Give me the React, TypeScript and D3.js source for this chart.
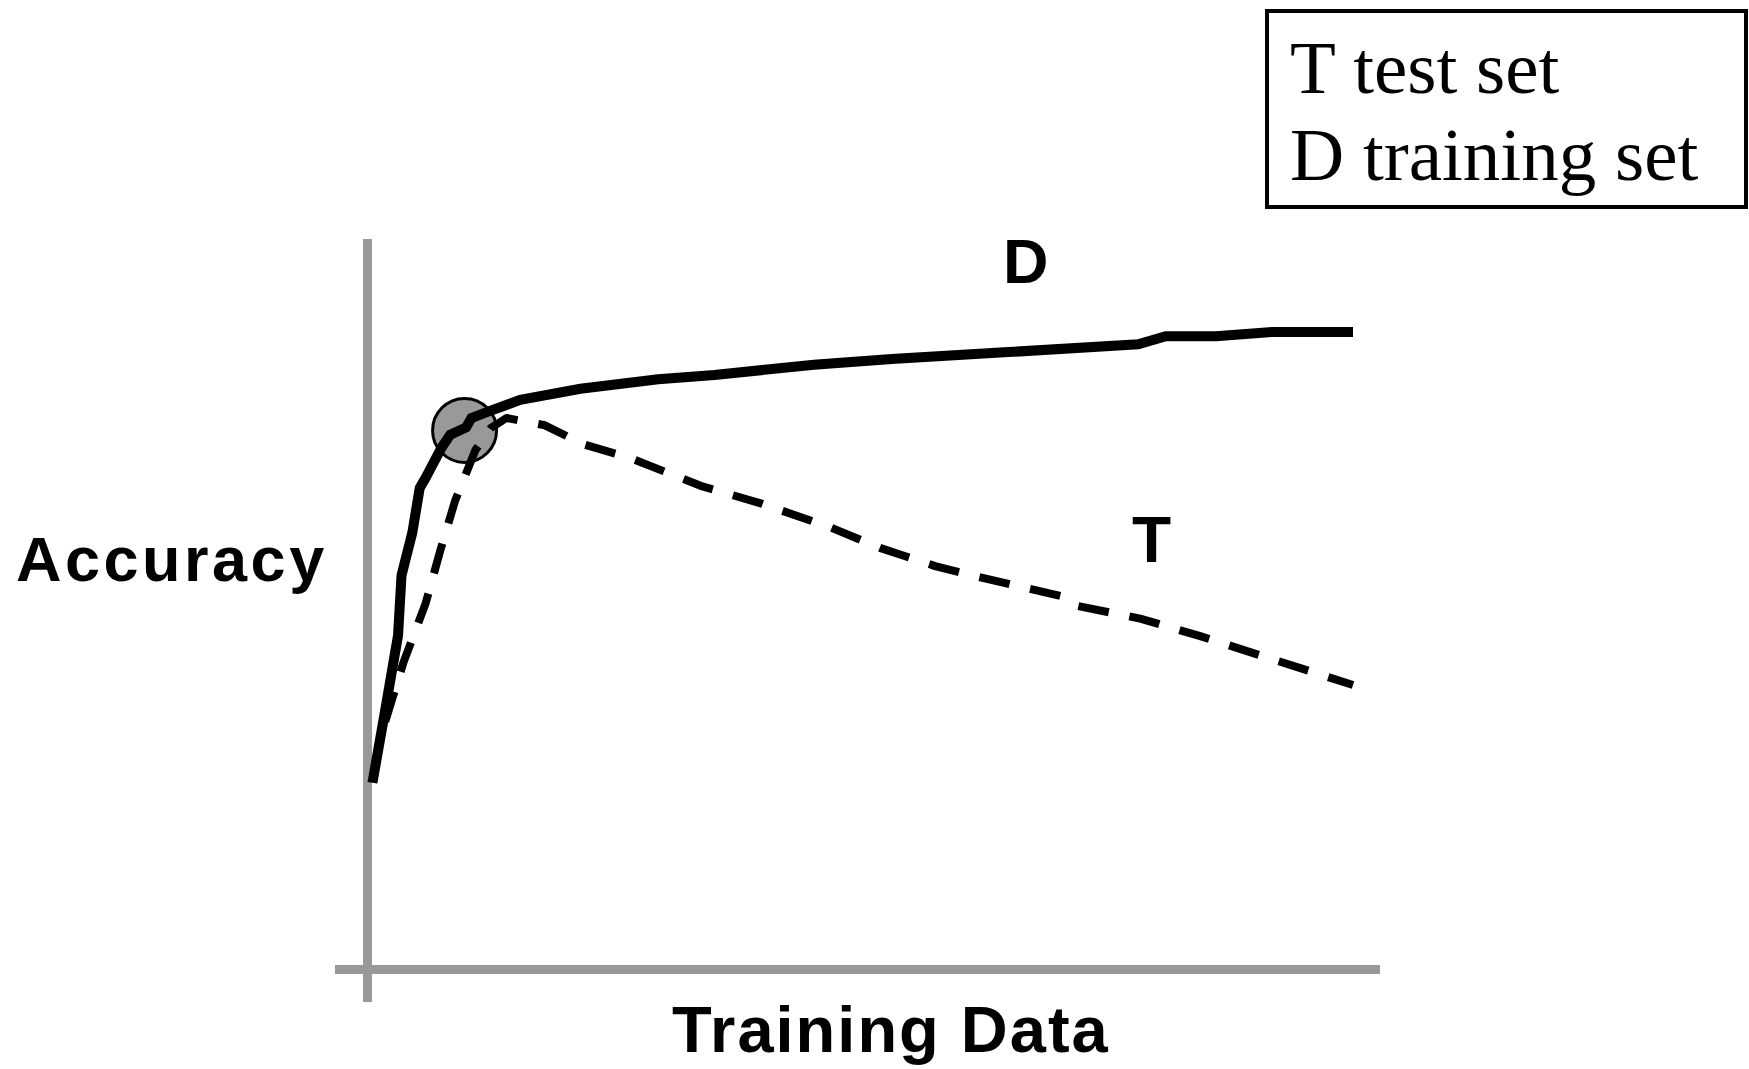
import React from "react";
import * as d3 from "d3";

// Training-set accuracy curve (D), x = training data (0..100), y = accuracy (0..100)
const trainX = [0.5, 1.7, 3.1, 3.45, 4.55, 5.3, 5.9, 7.5, 8.4, 10.0, 10.55, 12.1, 15.5, 21.6, 29.5, 35.2, 45.3, 53.2, 64.6, 78.2, 81.0, 86.1, 91.8, 100];
const trainY = [25.6, 34.8, 45.8, 54.0, 59.9, 66.0, 67.4, 71.5, 73.3, 74.3, 75.6, 76.4, 78.1, 79.6, 80.9, 81.5, 82.9, 83.7, 84.6, 85.7, 86.8, 86.8, 87.4, 87.4];

// Test-set accuracy curve (T)
const testX = [1.8, 3.65, 5.9, 7.4, 8.9, 10.95, 12.5, 14.1, 18.0, 20.4, 21.4, 26.7, 33.8, 39.9, 47.0, 52.0, 57.6, 61.7, 65.2, 70.3, 71.8, 78.4, 84.5, 100];
const testY = [34.0, 42.1, 50.2, 57.5, 64.3, 71.2, 74.2, 75.6, 74.6, 73.0, 72.2, 70.1, 66.3, 63.9, 60.6, 57.8, 55.3, 53.9, 52.8, 51.2, 49.9, 48.1, 45.7, 39.0];

// Highlighted optimum point
const optimumX = [9.85];
const optimumY = [73.9];

const legendLines = ["T test set", "D training set"];
const seriesLabels = ["D", "T"];
const axisTitles = ["Accuracy", "Training Data"];

export default function App() {
  const W = 1749;
  const H = 1069;
  const x0 = 367.5;
  const y0 = 969.5;
  const xScale = d3.scaleLinear().domain([0, 100]).range([x0, 1353]);
  const yScale = d3.scaleLinear().domain([0, 100]).range([y0, 240]);

  const train = trainX.map((v, i) => [v, trainY[i]] as [number, number]);
  const test = testX.map((v, i) => [v, testY[i]] as [number, number]);

  const line = d3
    .line<[number, number]>()
    .x((d) => xScale(d[0]))
    .y((d) => yScale(d[1]))
    .curve(d3.curveLinear);

  const sans = "'Liberation Sans', Arial, sans-serif";
  const serif = "'Liberation Serif', 'Times New Roman', serif";

  return (
    <svg
      width={W}
      height={H}
      viewBox={`0 0 ${W} ${H}`}
      style={{ position: "absolute", left: 0, top: 0, background: "#fff" }}
    >
      <rect x={0} y={0} width={W} height={H} fill="#fff" />
      {/* axes */}
      <line x1={x0} x2={x0} y1={239} y2={1002} stroke="#999" strokeWidth={9} />
      <line x1={335} x2={1380} y1={y0} y2={y0} stroke="#999" strokeWidth={9} />

      {/* optimum circle */}
      {optimumX.map((v, i) => (
        <circle
          key={i}
          cx={xScale(v)}
          cy={yScale(optimumY[i])}
          r={32}
          fill="#999"
          stroke="#000"
          strokeWidth={3}
        />
      ))}

      {/* test curve (dashed) */}
      <path
        d={line(test) || ""}
        fill="none"
        stroke="#000"
        strokeWidth={8}
        strokeDasharray="31 21"
        strokeLinejoin="round"
      />
      {/* training curve (solid) */}
      <path
        d={line(train) || ""}
        fill="none"
        stroke="#000"
        strokeWidth={10}
        strokeLinejoin="miter"
      />

      {/* series labels */}
      <text x={1003} y={283} fontFamily={sans} fontWeight="bold" fontSize={63} fill="#000">
        {seriesLabels[0]}
      </text>
      <text x={1132} y={562} fontFamily={sans} fontWeight="bold" fontSize={64} fill="#000">
        {seriesLabels[1]}
      </text>

      {/* axis titles */}
      <text x={16} y={581} fontFamily={sans} fontWeight="bold" fontSize={63} letterSpacing={3.5} fill="#000">
        {axisTitles[0]}
      </text>
      <text x={672} y={1052} fontFamily={sans} fontWeight="bold" fontSize={65} letterSpacing={2} fill="#000">
        {axisTitles[1]}
      </text>

      {/* legend */}
      <rect x={1267} y={11} width={479} height={196} fill="#fff" stroke="#000" strokeWidth={4} />
      {legendLines.map((t, i) => (
        <text
          key={i}
          x={1290}
          y={93 + i * 87}
          fontFamily={serif}
          fontSize={75}
          fill="#000"
        >
          {t}
        </text>
      ))}
    </svg>
  );
}
